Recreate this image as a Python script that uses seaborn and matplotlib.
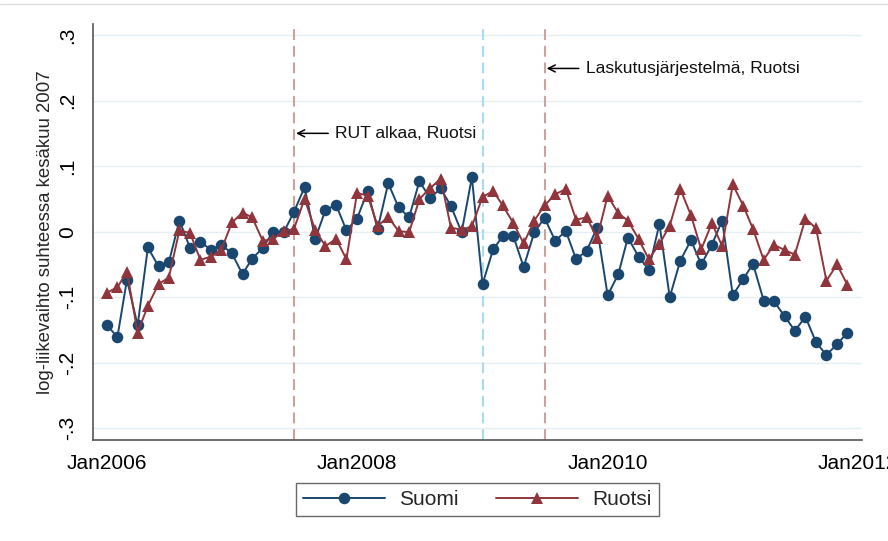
import matplotlib
matplotlib.use("Agg")
import matplotlib.pyplot as plt
from matplotlib.lines import Line2D
import matplotlib.dates as mdates
import numpy as np
import pandas as pd
import seaborn as sns

# ---- data ----
start_month = "2006-01-01"
n_months = 72
suomi = [-0.142, -0.161, -0.073, -0.143, -0.024, -0.053, -0.047, 0.017, -0.025, -0.015,
         -0.028, -0.020, -0.033, -0.065, -0.041, -0.025, 0.000, -0.001, 0.030, 0.068,
         -0.011, 0.033, 0.041, 0.002, 0.020, 0.062, 0.004, 0.074, 0.037, 0.022,
         0.077, 0.051, 0.066, 0.039, -0.001, 0.083, -0.080, -0.027, -0.007, -0.007,
         -0.054, -0.001, 0.021, -0.014, 0.001, -0.042, -0.029, 0.006, -0.097, -0.065,
         -0.009, -0.038, -0.058, 0.012, -0.100, -0.044, -0.013, -0.050, -0.020, 0.017,
         -0.097, -0.072, -0.049, -0.105, -0.106, -0.129, -0.151, -0.130, -0.169, -0.188,
         -0.172, -0.154]
ruotsi = [-0.093, -0.085, -0.061, -0.154, -0.113, -0.080, -0.070, 0.002, -0.002, -0.043,
          -0.038, -0.028, 0.014, 0.029, 0.022, -0.014, -0.011, 0.001, 0.004, 0.050,
          0.002, -0.022, -0.011, -0.042, 0.059, 0.055, 0.009, 0.022, 0.001, -0.001,
          0.050, 0.066, 0.081, 0.006, 0.003, 0.008, 0.053, 0.062, 0.040, 0.013,
          -0.018, 0.017, 0.040, 0.057, 0.065, 0.018, 0.022, -0.010, 0.055, 0.028,
          0.017, -0.011, -0.042, -0.019, 0.009, 0.065, 0.025, -0.027, 0.013, -0.022,
          0.072, 0.039, 0.004, -0.043, -0.020, -0.028, -0.035, 0.020, 0.005, -0.075,
          -0.050, -0.081]
series_names = ["Suomi", "Ruotsi"]
xtick_dates = ["2006-01-01", "2008-01-01", "2010-01-01", "2012-01-01"]
yticks = [-0.3, -0.2, -0.1, 0.0, 0.1, 0.2, 0.3]
ytick_labels = ["-.3", "-.2", "-.1", "0", ".1", ".2", ".3"]
event_dates = ["2007-07-01", "2009-01-01", "2009-07-01"]
event_colors = ["#c9a39e", "#a9daee", "#c9a39e"]
ann_texts = ["RUT alkaa, Ruotsi", "Laskutusjärjestelmä, Ruotsi"]
ann_dates = ["2007-07-01", "2009-07-01"]
ann_y = [0.150, 0.249]
ylabel = "log-liikevaihto suhteessa kesäkuu 2007"

# ---- style ----
sns.set_style("white")
plt.rcParams["font.family"] = ["Liberation Sans", "DejaVu Sans"]

dates = pd.date_range(start_month, periods=n_months, freq="MS")
df = pd.DataFrame({
    "date": list(dates) * 2,
    "value": suomi + ruotsi,
    "series": ["Suomi"] * n_months + ["Ruotsi"] * n_months,
})

c_suomi = "#1a476f"
c_ruotsi = "#90353b"

fig = plt.figure(figsize=(8.88, 5.41), dpi=100)
ax = fig.add_axes([92.7 / 888, 1 - 440 / 541, (861.7 - 92.7) / 888, (440 - 24) / 541])

# gridlines
for yv in yticks:
    ax.axhline(yv, color="#e6eff1", lw=1.0, zorder=0)

# event lines
for d, c in zip(event_dates, event_colors):
    ax.axvline(pd.Timestamp(d), color=c, lw=1.5, ls=(0, (5.2, 2.8)), zorder=1)

sns.lineplot(data=df[df.series == "Suomi"], x="date", y="value", color=c_suomi,
             marker="o", markersize=8.3, markeredgewidth=0, lw=1.4, ax=ax, zorder=3)
sns.lineplot(data=df[df.series == "Ruotsi"], x="date", y="value", color=c_ruotsi,
             marker="^", markersize=9.3, markeredgewidth=0, lw=1.4, ax=ax, zorder=3)

# annotations with arrows
for t, d, yv in zip(ann_texts, ann_dates, ann_y):
    xd = mdates.date2num(pd.Timestamp(d))
    ax.annotate("", xy=(xd + 6, yv), xytext=(xd + 100, yv),
                arrowprops=dict(arrowstyle="->,head_length=0.5,head_width=0.25",
                                color="black", lw=1.1, shrinkA=0, shrinkB=0))
    ax.text(xd + 120, yv, t, fontsize=12.6, va="center", ha="left", color="#111111")

ax.set_xlim(pd.Timestamp("2005-11-21"), pd.Timestamp("2012-01-12"))
ax.set_ylim(-0.3178, 0.3168)
ax.set_xticks([pd.Timestamp(d) for d in xtick_dates])
ax.xaxis.set_major_formatter(mdates.DateFormatter("%b%Y"))
ax.set_yticks(yticks)
ax.set_yticklabels(ytick_labels)
for lab in ax.get_yticklabels():
    lab.set_rotation(90)
    lab.set_va("center")
ax.tick_params(axis="both", labelsize=15, length=6, width=1.0, color="#555555",
               labelcolor="black", direction="out")
ax.tick_params(axis="y", pad=5)
ax.tick_params(axis="x", pad=4)
ax.set_xlabel("")
ax.set_ylabel(ylabel, fontsize=13.4, labelpad=3)
for s in ["top", "right"]:
    ax.spines[s].set_visible(False)
for s in ["left", "bottom"]:
    ax.spines[s].set_color("#555555")
    ax.spines[s].set_linewidth(1.2)

handles = [Line2D([], [], color=c_suomi, marker="o", markersize=8.3, markeredgewidth=0, lw=1.4),
           Line2D([], [], color=c_ruotsi, marker="^", markersize=9.3, markeredgewidth=0, lw=1.4)]
leg = fig.legend(handles, series_names, loc="center", ncol=2,
                 bbox_to_anchor=(477.5 / 888, 1 - 499.5 / 541), fontsize=15,
                 frameon=True, fancybox=False, edgecolor="#444444",
                 handlelength=3.9, handletextpad=0.7, columnspacing=1.8,
                 borderpad=0.35, borderaxespad=0)
leg.get_frame().set_linewidth(1.0)

fig.add_artist(Line2D([0, 1], [1 - 4 / 541] * 2, color="#dddddd", lw=1))

fig.savefig("out.png", dpi=100)
